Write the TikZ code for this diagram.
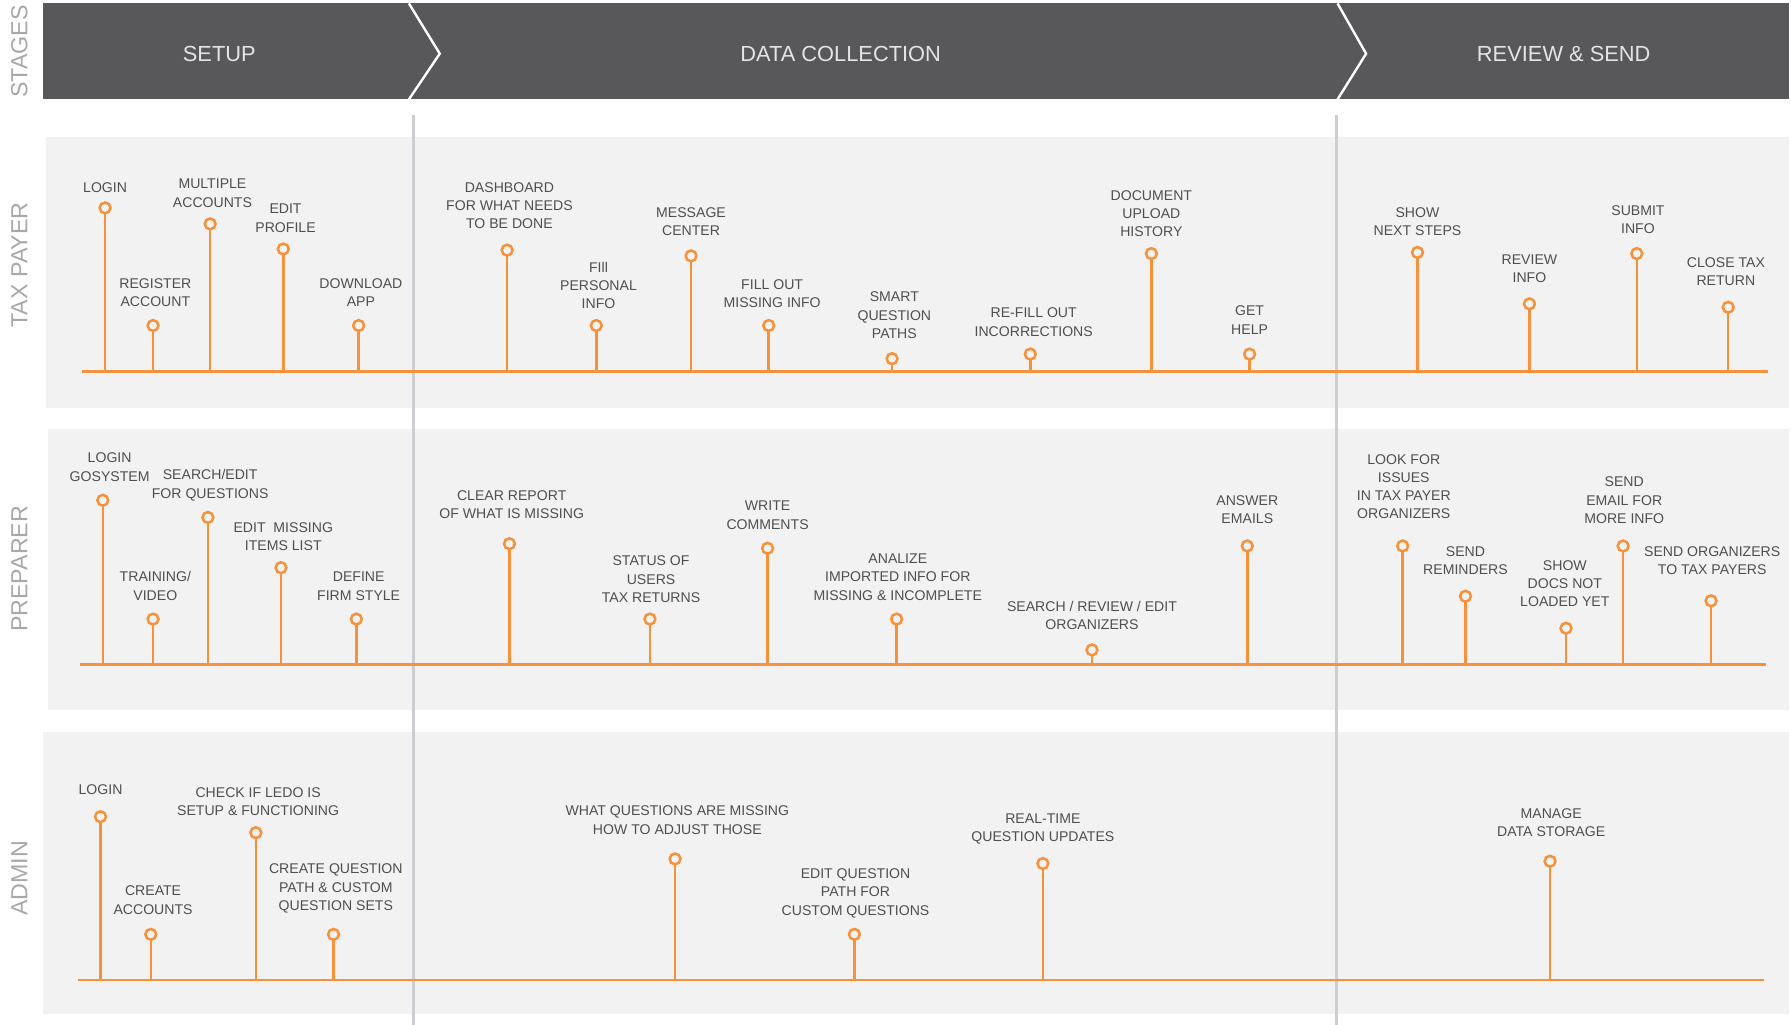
\documentclass[tikz,border=0pt]{standalone}
\usepackage{fontspec}
\setmainfont{Liberation Sans}
\usetikzlibrary{positioning}

\definecolor{stagebar}{HTML}{58585A}
\definecolor{lanefill}{HTML}{F2F2F2}
\definecolor{splitline}{HTML}{CDCED1}
\definecolor{pathorange}{HTML}{F7923A}
\definecolor{labelink}{HTML}{4F4F4F}
\definecolor{roleink}{HTML}{A8A8A8}
\definecolor{stageink}{HTML}{E4E4E4}

\tikzset{
  pinhead/.style={circle, draw=pathorange, line width=1.8pt, minimum size=0.27cm, inner sep=0pt, outer sep=0pt},
  stem/.style={draw=pathorange, line width=1.8pt},
  timeline/.style={draw=pathorange, line width=2pt},
  pinlabel/.style={font=\fontsize{10}{13}\selectfont, text=labelink, align=center, inner sep=0pt, outer sep=0pt, anchor=south},
  stagetitle/.style={font=\fontsize{15.5}{18}\selectfont, text=stageink},
  roletitle/.style={font=\fontsize{16.5}{19}\selectfont, text=roleink, rotate=90}
}

\begin{document}
\begin{tikzpicture}[x=0.0285cm, y=-0.0285cm]
    \useasboundingbox (0,0) rectangle (1568,897);

    % stages bar
    \fill [stagebar] (38,3) rectangle (1566,87);
    \draw [white, line width=1.7pt] (358,3) -- (385,47) -- (358,87);
    \draw [white, line width=1.7pt] (1171,3) -- (1196,47) -- (1171,87);
    \node [stagetitle] (setup) at (192,47) {SETUP};
    \node [stagetitle] (collect) at (736,47) {DATA COLLECTION};
    \node [stagetitle] (review) at (1369,47) {REVIEW \& SEND};

    % lanes
    \fill [lanefill] (40,120) rectangle (1566,357);
    \fill [lanefill] (42,376) rectangle (1566,622);
    \fill [lanefill] (38,641) rectangle (1566,888);
    \draw [splitline, line width=2.6pt] (362,101) -- (362,897);
    \draw [splitline, line width=2.6pt] (1170,101) -- (1170,897);

    \node [roletitle] (stages) at (17,45) {STAGES};
    \node [roletitle] (taxpayer) at (17,232) {TAX PAYER};
    \node [roletitle] (preparer) at (17,498) {PREPARER};
    \node [roletitle] (admin) at (17,769) {ADMIN};

    % tax payer
    \coordinate (tpline) at (72,325);
    \coordinate (tpend) at (1548,325);
    \draw [timeline] (tpline) -- (tpend);
    \foreach \x/\cy/\g/\dx/\txt [count=\i] in {
        92/182/19/0/{LOGIN},
        134/285/22/2/{REGISTER\\ACCOUNT},
        184/196/20/2/{MULTIPLE\\ACCOUNTS},
        248/218/20/2/{EDIT\\PROFILE},
        314/285/22/2/{DOWNLOAD\\APP},
        444/219/24/2/{DASHBOARD\\FOR WHAT NEEDS\\TO BE DONE},
        522/285/20/2/{FIll\\PERSONAL\\INFO},
        605/224/23/0/{MESSAGE\\CENTER},
        673/285/21/3/{FILL OUT\\MISSING INFO},
        781/314/23/2/{SMART\\QUESTION\\PATHS},
        902/310/21/3/{RE-FILL OUT\\INCORRECTIONS},
        1008/222/20/0/{DOCUMENT\\UPLOAD\\HISTORY},
        1094/310/23/0/{GET\\HELP},
        1241/221/20/0/{SHOW\\NEXT STEPS},
        1339/266/24/0/{REVIEW\\INFO},
        1433/222/23/1/{SUBMIT\\INFO},
        1513/269/24/-2/{CLOSE TAX\\RETURN}} {
        \node [pinhead] (tp\i) at (\x,\cy) {};
        \draw [stem] (tp\i) -- (tp\i |- tpline);
        \pgfmathsetmacro\gd{(\g-10.2)*0.0285}
        \node [pinlabel, above=\gd cm of tp\i, xshift=\dx*0.0285cm] (tpl\i) {\txt};
    }

    % preparer
    \coordinate (prline) at (70,582);
    \coordinate (prend) at (1546,582);
    \draw [timeline] (prline) -- (prend);
    \foreach \x/\cy/\g/\dx/\txt [count=\i] in {
        90/438/22/6/{LOGIN\\GOSYSTEM},
        134/542/22/2/{TRAINING/\\VIDEO},
        182/453/20/2/{SEARCH/EDIT\\FOR QUESTIONS},
        246/497/20/2/{EDIT\ \ MISSING\\ITEMS LIST},
        312/542/22/2/{DEFINE\\FIRM STYLE},
        446/476/27/2/{CLEAR REPORT\\OF WHAT IS MISSING},
        569/542/20/1/{STATUS OF\\USERS\\TAX RETURNS},
        672/480/22/0/{WRITE\\COMMENTS},
        785/542/22/1/{ANALIZE\\IMPORTED INFO FOR\\MISSING \& INCOMPLETE},
        956/569/23/0/{SEARCH / REVIEW / EDIT\\ORGANIZERS},
        1092/478/25/0/{ANSWER\\EMAILS},
        1228/478/29/1/{LOOK FOR\\ISSUES\\IN TAX PAYER\\ORGANIZERS},
        1283/522/24/0/{SEND\\REMINDERS},
        1371/550/24/-1/{SHOW\\DOCS NOT\\LOADED YET},
        1421/478/25/1/{SEND\\EMAIL FOR\\MORE INFO},
        1498/526/28/1/{SEND ORGANIZERS\\TO TAX PAYERS}} {
        \node [pinhead] (pr\i) at (\x,\cy) {};
        \draw [stem] (pr\i) -- (pr\i |- prline);
        \pgfmathsetmacro\gd{(\g-10.2)*0.0285}
        \node [pinlabel, above=\gd cm of pr\i, xshift=\dx*0.0285cm] (prl\i) {\txt};
    }

    % admin
    \coordinate (adline) at (68,858);
    \coordinate (adend) at (1544,858);
    \draw [timeline] (adline) -- (adend);
    \foreach \x/\cy/\g/\dx/\txt [count=\i] in {
        88/715/25/0/{LOGIN},
        132/818/23/2/{CREATE\\ACCOUNTS},
        224/729/20/2/{CHECK IF LEDO IS\\SETUP \& FUNCTIONING},
        292/818/24/2/{CREATE QUESTION\\PATH \& CUSTOM\\QUESTION SETS},
        591/752/27/2/{WHAT QUESTIONS ARE MISSING\\HOW TO ADJUST THOSE},
        748/818/20/1/{EDIT QUESTION\\PATH FOR\\CUSTOM QUESTIONS},
        913/756/22/0/{REAL-TIME\\QUESTION UPDATES},
        1357/754/27/1/{MANAGE\\DATA STORAGE}} {
        \node [pinhead] (ad\i) at (\x,\cy) {};
        \draw [stem] (ad\i) -- (ad\i |- adline);
        \pgfmathsetmacro\gd{(\g-10.2)*0.0285}
        \node [pinlabel, above=\gd cm of ad\i, xshift=\dx*0.0285cm] (adl\i) {\txt};
    }
\end{tikzpicture}
\end{document}
